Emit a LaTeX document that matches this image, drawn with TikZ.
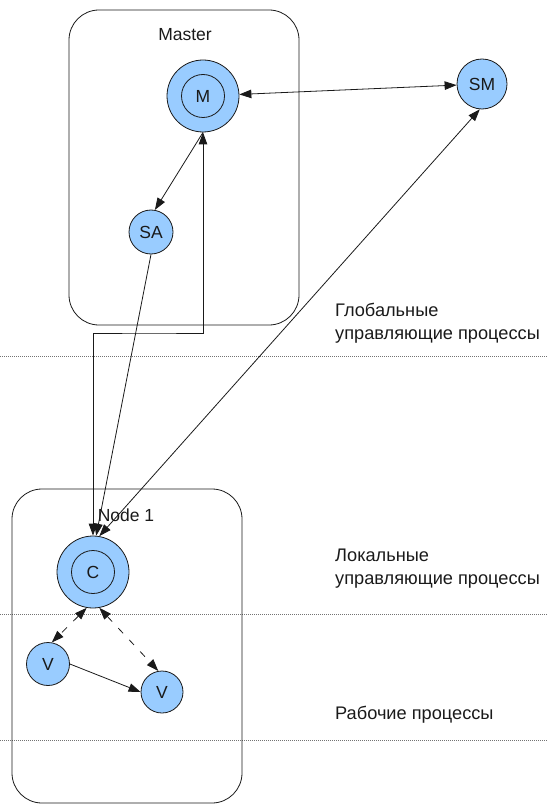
\documentclass[tikz,border=0pt]{standalone}
\usepackage{fontspec}
\setmainfont{Liberation Sans}
\usetikzlibrary{arrows.meta}
\definecolor{procfill}{HTML}{99CCFF}
\definecolor{ink}{HTML}{1A1A1A}
\begin{document}
\begin{tikzpicture}[x=1pt,y=-1pt,
  font=\fontsize{17.5}{22}\selectfont,
  every node/.style={text=ink},
  groupbox/.style={draw=ink, line width=0.8pt, rounded corners=30pt, inner sep=0pt},
  proc/.style={circle, draw=ink, fill=procfill, line width=0.8pt, inner sep=0pt, minimum size=#1},
  proc/.default=44pt,
  ring/.style={circle, draw=ink, line width=0.8pt, inner sep=0pt, minimum size=43pt},
  tip/.style={-{Triangle[length=12pt,width=8.5pt]}},
  bitip/.style={{Triangle[length=12pt,width=8.5pt]}-{Triangle[length=12pt,width=8.5pt]}},
  conn/.style={draw=ink, line width=0.8pt},
  level/.style={draw=black!55, line width=0.6pt, dash pattern=on 1pt off 1pt},
  levellabel/.style={anchor=north west, align=left, inner sep=0pt,
                     font=\fontsize{18.2}{22.5}\selectfont}
]
\useasboundingbox (0,0) rectangle (548,805);

% layer separators
\coordinate (g1) at (0,356);   \coordinate (g2) at (548,356);
\coordinate (l1) at (0,614);   \coordinate (l2) at (548,614);
\coordinate (w1) at (0,740);   \coordinate (w2) at (548,740);
\draw[level] (g1) -- (g2);
\draw[level] (l1) -- (l2);
\draw[level] (w1) -- (w2);

% group boxes
\node[groupbox, minimum width=230pt, minimum height=315pt] (masterbox) at (184,167.5) {};
\node[groupbox, minimum width=230pt, minimum height=314pt] (nodebox) at (127,646) {};
\node (mastertitle) at (185,35) {Master};

% processes
\node[proc=72pt] (M) at (203,96) {};
\node[ring] (Mring) at (M) {M};
\node[proc] (SA) at (151,232) {SA};
\node[proc=50pt] (SM) at (482,84) {SM};
\node[proc=72pt] (C) at (93,572) {};
\node[ring] (Cring) at (C) {C};
\node[proc=43pt] (V1) at (48,664) {V};
\node[proc=42pt] (V2) at (162,692) {V};

% level labels
\node[levellabel] (glabel) at (335,303) {Глобальные\\управляющие процессы};
\node[levellabel] (llabel) at (335,549) {Локальные\\управляющие процессы};
\node[levellabel] (wlabel) at (335,706) {Рабочие процессы};

% connectors
\coordinate (bend) at (150,333);
\draw[conn, bitip] (M) -- (SM);
\draw[conn, tip] (M.south) -- (SA.80);
\draw[conn, bitip] (C.north) |- (bend) -| (M.south);
\draw[conn, tip] (SA.south) -- (C.85);
\draw[conn, bitip] (C.80) -- (SM.265);
\draw[conn, bitip, dash pattern=on 7pt off 9pt] (C.-100) -- (V1.80);
\draw[conn, bitip, dash pattern=on 7pt off 9pt] (C.-80) -- (V2.100);
\draw[conn, tip] (V1.east) -- (V2.west);

\node (nodetitle) at (126,515) {Node 1};
\end{tikzpicture}
\end{document}
